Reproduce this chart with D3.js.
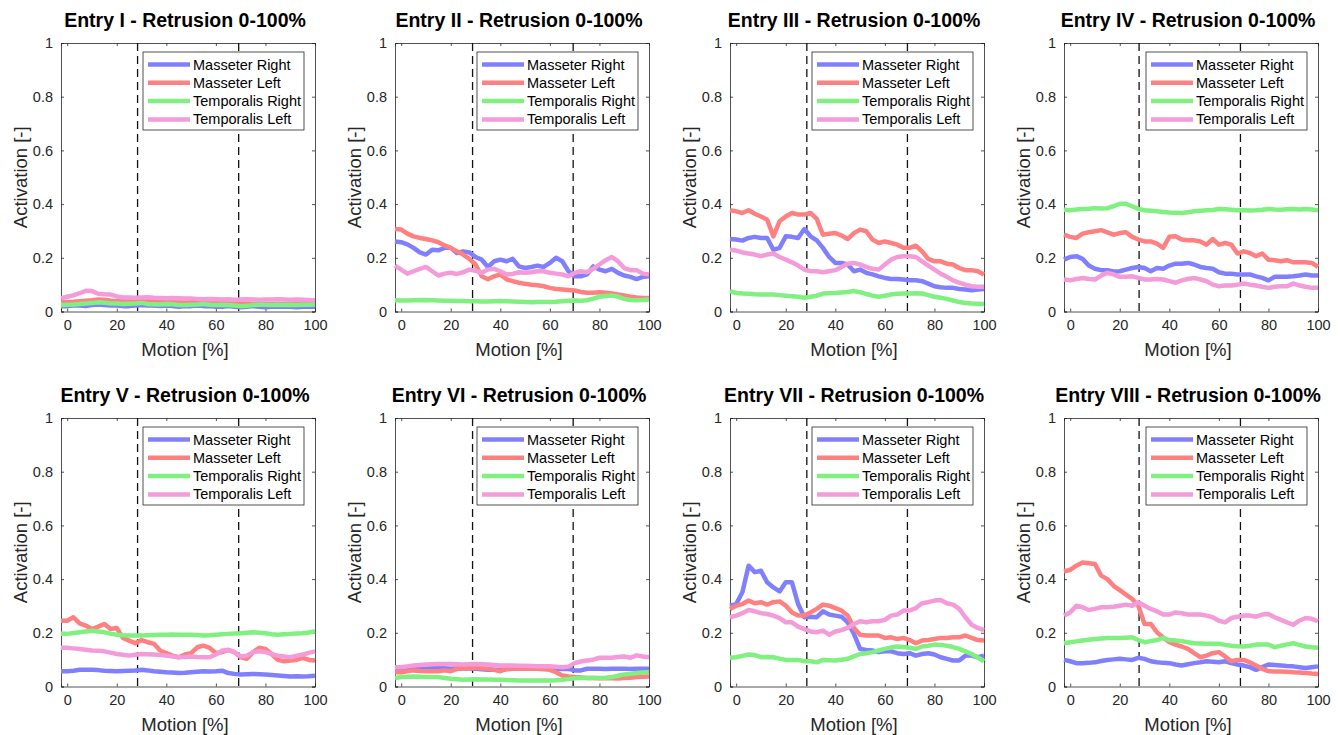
<!DOCTYPE html>
<html>
<head>
<meta charset="utf-8">
<script src="https://cdn.jsdelivr.net/npm/d3@7"></script>
<style>
  body { margin: 0; background: #fff; }
  text { font-family: Arial, "Liberation Sans", Helvetica, sans-serif; }
</style>
</head>
<body>
<script>
// data, x = motion [%]
var motion = [-2.5,0,2.5,5,7.5,10,12.5,15,17.5,20,22.5,25,27.5,30,32.5,35,37.5,40,42.5,45,47.5,50,52.5,55,57.5,60,62.5,65,67.5,70,72.5,75,77.5,80,82.5,85,87.5,90,92.5,95,97.5,100];

var entries = ["I", "II", "III", "IV", "V", "VI", "VII", "VIII"];
var muscles = ["Masseter Right", "Masseter Left", "Temporalis Right", "Temporalis Left"];
var colours = ["#8080ff", "#ff8080", "#80f080", "#f49bd9"];
var xTicks = [0, 20, 40, 60, 80, 100];
var yTicks = [0, 0.2, 0.4, 0.6, 0.8, 1];
var phaseLines = [[28.4, 69.2], [28.8, 69.4], [28.5, 69.1], [27.8, 68.7], [28.4, 69.2], [28.8, 69.4], [28.5, 69.1], [27.8, 68.7]];

// entry I
var e1_mr = [0.02,0.02,0.022,0.022,0.02,0.024,0.026,0.024,0.022,0.022,0.02,0.02,0.022,0.024,0.022,0.022,0.02,0.022,0.02,0.018,0.02,0.02,0.022,0.02,0.02,0.018,0.018,0.02,0.018,0.016,0.018,0.02,0.018,0.016,0.018,0.018,0.018,0.018,0.016,0.018,0.018,0.018];
var e1_ml = [0.034,0.035,0.036,0.038,0.04,0.042,0.045,0.044,0.04,0.038,0.04,0.04,0.038,0.04,0.038,0.036,0.036,0.035,0.036,0.034,0.033,0.034,0.034,0.035,0.033,0.032,0.032,0.03,0.03,0.03,0.03,0.028,0.028,0.029,0.028,0.028,0.027,0.028,0.028,0.027,0.027,0.028];
var e1_tr = [0.024,0.025,0.026,0.028,0.03,0.032,0.034,0.033,0.03,0.03,0.028,0.029,0.03,0.032,0.028,0.027,0.026,0.028,0.027,0.024,0.024,0.025,0.026,0.028,0.025,0.024,0.025,0.024,0.022,0.02,0.021,0.024,0.026,0.025,0.024,0.025,0.024,0.025,0.024,0.025,0.025,0.026];
var e1_tl = [0.05,0.055,0.06,0.068,0.077,0.076,0.066,0.064,0.063,0.056,0.052,0.052,0.051,0.052,0.053,0.051,0.05,0.049,0.05,0.049,0.048,0.048,0.047,0.046,0.047,0.046,0.045,0.046,0.044,0.045,0.046,0.045,0.044,0.045,0.045,0.046,0.045,0.044,0.045,0.044,0.043,0.042];
// entry II
var e2_mr = [0.261,0.258,0.25,0.237,0.22,0.212,0.23,0.228,0.237,0.237,0.218,0.224,0.22,0.203,0.193,0.166,0.187,0.193,0.187,0.196,0.168,0.162,0.166,0.171,0.166,0.181,0.2,0.187,0.15,0.131,0.131,0.138,0.168,0.156,0.15,0.159,0.144,0.134,0.129,0.121,0.129,0.131];
var e2_ml = [0.307,0.305,0.29,0.28,0.274,0.27,0.265,0.258,0.246,0.237,0.224,0.212,0.196,0.175,0.131,0.12,0.131,0.138,0.12,0.113,0.107,0.103,0.1,0.098,0.094,0.088,0.084,0.082,0.08,0.078,0.073,0.07,0.07,0.072,0.07,0.067,0.063,0.06,0.055,0.052,0.05,0.05];
var e2_tr = [0.042,0.041,0.041,0.042,0.042,0.043,0.042,0.041,0.04,0.04,0.039,0.039,0.038,0.038,0.037,0.037,0.038,0.039,0.038,0.037,0.036,0.035,0.034,0.035,0.035,0.035,0.036,0.038,0.04,0.041,0.04,0.042,0.048,0.055,0.058,0.06,0.055,0.047,0.043,0.042,0.043,0.045];
var e2_tl = [0.171,0.156,0.141,0.15,0.159,0.166,0.15,0.134,0.141,0.144,0.14,0.146,0.156,0.152,0.144,0.156,0.159,0.15,0.138,0.14,0.146,0.144,0.146,0.15,0.15,0.144,0.141,0.138,0.131,0.144,0.15,0.146,0.159,0.175,0.191,0.203,0.187,0.162,0.154,0.154,0.141,0.138];
// entry III
var e3_mr = [0.27,0.268,0.264,0.274,0.278,0.274,0.274,0.23,0.237,0.28,0.278,0.274,0.307,0.28,0.265,0.237,0.203,0.181,0.181,0.175,0.15,0.156,0.144,0.138,0.131,0.125,0.121,0.121,0.119,0.116,0.116,0.113,0.104,0.094,0.09,0.088,0.088,0.084,0.082,0.079,0.082,0.084];
var e3_ml = [0.377,0.373,0.367,0.377,0.364,0.354,0.342,0.28,0.336,0.354,0.367,0.361,0.361,0.367,0.345,0.286,0.29,0.292,0.283,0.27,0.292,0.305,0.299,0.268,0.255,0.261,0.255,0.249,0.237,0.237,0.245,0.224,0.196,0.187,0.187,0.178,0.175,0.162,0.154,0.154,0.15,0.138];
var e3_tr = [0.076,0.069,0.067,0.066,0.064,0.063,0.063,0.063,0.061,0.059,0.057,0.055,0.051,0.055,0.059,0.067,0.068,0.069,0.071,0.073,0.076,0.072,0.065,0.059,0.055,0.059,0.063,0.066,0.067,0.067,0.068,0.067,0.061,0.055,0.051,0.047,0.041,0.035,0.032,0.03,0.029,0.028];
var e3_tl = [0.23,0.227,0.22,0.216,0.212,0.206,0.212,0.216,0.203,0.193,0.183,0.171,0.156,0.15,0.15,0.146,0.15,0.154,0.166,0.178,0.181,0.175,0.166,0.159,0.156,0.175,0.193,0.203,0.206,0.206,0.203,0.187,0.171,0.156,0.141,0.129,0.116,0.107,0.1,0.094,0.092,0.092];
// entry IV
var e4_mr = [0.193,0.203,0.206,0.196,0.171,0.159,0.154,0.154,0.149,0.15,0.156,0.162,0.166,0.162,0.15,0.162,0.159,0.171,0.178,0.178,0.181,0.175,0.166,0.162,0.159,0.146,0.141,0.141,0.138,0.138,0.138,0.131,0.125,0.116,0.129,0.129,0.129,0.131,0.134,0.138,0.134,0.134];
var e4_ml = [0.286,0.278,0.274,0.29,0.295,0.299,0.303,0.295,0.286,0.292,0.295,0.278,0.268,0.261,0.261,0.253,0.237,0.278,0.28,0.268,0.265,0.265,0.261,0.249,0.27,0.249,0.255,0.249,0.216,0.224,0.218,0.206,0.216,0.193,0.191,0.187,0.191,0.183,0.183,0.183,0.181,0.166];
var e4_tr = [0.379,0.377,0.38,0.382,0.383,0.385,0.384,0.385,0.392,0.401,0.401,0.392,0.382,0.377,0.375,0.373,0.371,0.369,0.368,0.367,0.37,0.373,0.375,0.377,0.378,0.382,0.381,0.379,0.377,0.377,0.376,0.377,0.379,0.382,0.38,0.379,0.381,0.382,0.38,0.382,0.38,0.377];
var e4_tl = [0.119,0.116,0.121,0.125,0.121,0.119,0.134,0.144,0.138,0.129,0.129,0.131,0.125,0.119,0.119,0.121,0.119,0.113,0.107,0.116,0.121,0.125,0.119,0.113,0.1,0.094,0.097,0.097,0.1,0.104,0.1,0.097,0.092,0.088,0.092,0.094,0.094,0.104,0.097,0.092,0.088,0.088];
// entry V
var e5_mr = [0.057,0.057,0.059,0.062,0.062,0.062,0.061,0.059,0.058,0.057,0.058,0.059,0.06,0.062,0.06,0.057,0.055,0.053,0.052,0.05,0.051,0.053,0.055,0.057,0.056,0.057,0.059,0.05,0.047,0.045,0.046,0.047,0.046,0.045,0.043,0.041,0.039,0.037,0.038,0.037,0.038,0.04];
var e5_ml = [0.245,0.245,0.258,0.235,0.227,0.214,0.223,0.233,0.214,0.218,0.181,0.171,0.161,0.173,0.165,0.159,0.134,0.124,0.115,0.109,0.119,0.124,0.146,0.152,0.144,0.124,0.128,0.136,0.128,0.109,0.103,0.128,0.144,0.14,0.121,0.099,0.094,0.097,0.099,0.107,0.099,0.097];
var e5_tr = [0.196,0.196,0.199,0.202,0.205,0.208,0.205,0.202,0.197,0.193,0.191,0.19,0.19,0.19,0.191,0.192,0.193,0.193,0.194,0.193,0.193,0.193,0.192,0.19,0.191,0.193,0.195,0.196,0.197,0.198,0.2,0.202,0.2,0.198,0.195,0.193,0.195,0.196,0.197,0.198,0.201,0.206];
var e5_tl = [0.144,0.144,0.142,0.14,0.137,0.134,0.133,0.131,0.126,0.121,0.118,0.115,0.118,0.121,0.12,0.119,0.117,0.115,0.112,0.109,0.11,0.112,0.11,0.109,0.109,0.119,0.134,0.136,0.128,0.112,0.115,0.128,0.131,0.128,0.121,0.115,0.112,0.109,0.114,0.119,0.125,0.131];
// entry VI
var e6_mr = [0.06,0.06,0.063,0.066,0.066,0.066,0.068,0.07,0.068,0.066,0.067,0.068,0.067,0.066,0.064,0.062,0.062,0.062,0.064,0.066,0.066,0.066,0.066,0.066,0.066,0.066,0.065,0.065,0.066,0.06,0.06,0.066,0.066,0.066,0.065,0.066,0.066,0.066,0.065,0.066,0.066,0.066];
var e6_ml = [0.053,0.053,0.057,0.06,0.058,0.057,0.057,0.057,0.06,0.057,0.066,0.068,0.069,0.07,0.068,0.066,0.062,0.057,0.066,0.066,0.066,0.066,0.066,0.066,0.064,0.062,0.053,0.041,0.037,0.035,0.034,0.032,0.032,0.031,0.031,0.031,0.03,0.032,0.033,0.035,0.036,0.037];
var e6_tr = [0.032,0.035,0.036,0.037,0.036,0.035,0.035,0.035,0.032,0.029,0.027,0.025,0.026,0.027,0.026,0.026,0.025,0.025,0.024,0.023,0.022,0.022,0.022,0.022,0.022,0.022,0.023,0.025,0.028,0.031,0.032,0.032,0.032,0.032,0.033,0.035,0.04,0.045,0.047,0.05,0.052,0.053];
var e6_tl = [0.072,0.072,0.075,0.078,0.08,0.082,0.083,0.084,0.084,0.084,0.083,0.082,0.083,0.084,0.083,0.082,0.08,0.078,0.078,0.078,0.077,0.077,0.076,0.075,0.075,0.075,0.074,0.072,0.074,0.087,0.093,0.097,0.1,0.107,0.107,0.107,0.11,0.112,0.107,0.116,0.112,0.109];
// entry VII
var e7_mr = [0.301,0.307,0.351,0.45,0.426,0.431,0.388,0.369,0.354,0.388,0.388,0.307,0.258,0.26,0.258,0.28,0.268,0.264,0.26,0.239,0.196,0.14,0.136,0.134,0.128,0.131,0.131,0.124,0.121,0.124,0.115,0.121,0.124,0.119,0.109,0.103,0.097,0.097,0.115,0.115,0.109,0.115];
var e7_ml = [0.289,0.301,0.307,0.32,0.31,0.314,0.305,0.314,0.317,0.301,0.276,0.264,0.264,0.276,0.289,0.305,0.301,0.292,0.283,0.264,0.218,0.193,0.19,0.19,0.19,0.181,0.183,0.177,0.181,0.173,0.161,0.171,0.173,0.177,0.181,0.181,0.183,0.183,0.19,0.181,0.173,0.171];
var e7_tr = [0.107,0.109,0.114,0.119,0.117,0.109,0.11,0.109,0.104,0.099,0.099,0.099,0.094,0.094,0.09,0.099,0.098,0.097,0.1,0.103,0.112,0.121,0.124,0.128,0.134,0.14,0.145,0.149,0.147,0.144,0.14,0.149,0.152,0.156,0.155,0.152,0.147,0.14,0.131,0.121,0.108,0.094];
var e7_tl = [0.258,0.264,0.273,0.285,0.28,0.273,0.27,0.264,0.255,0.239,0.239,0.223,0.214,0.205,0.202,0.208,0.193,0.205,0.21,0.218,0.233,0.243,0.239,0.243,0.243,0.248,0.264,0.268,0.283,0.283,0.292,0.31,0.314,0.32,0.322,0.31,0.305,0.289,0.258,0.23,0.218,0.21];
// entry VIII
var e8_mr = [0.099,0.094,0.087,0.087,0.088,0.09,0.095,0.099,0.101,0.103,0.101,0.099,0.107,0.103,0.094,0.09,0.088,0.087,0.082,0.078,0.083,0.087,0.09,0.094,0.092,0.09,0.094,0.087,0.082,0.078,0.072,0.062,0.072,0.082,0.08,0.078,0.076,0.075,0.072,0.069,0.072,0.075];
var e8_ml = [0.429,0.434,0.45,0.462,0.459,0.456,0.413,0.4,0.375,0.359,0.342,0.326,0.301,0.233,0.233,0.202,0.183,0.165,0.156,0.149,0.14,0.124,0.109,0.115,0.124,0.128,0.112,0.094,0.099,0.099,0.09,0.078,0.066,0.057,0.056,0.056,0.055,0.053,0.052,0.05,0.048,0.047];
var e8_tr = [0.161,0.165,0.168,0.171,0.174,0.177,0.179,0.181,0.181,0.181,0.182,0.183,0.173,0.165,0.169,0.173,0.181,0.173,0.171,0.169,0.165,0.161,0.16,0.159,0.159,0.159,0.155,0.152,0.15,0.149,0.152,0.156,0.156,0.156,0.146,0.152,0.157,0.161,0.155,0.149,0.146,0.144];
var e8_tl = [0.264,0.276,0.301,0.295,0.285,0.289,0.295,0.295,0.297,0.301,0.305,0.301,0.314,0.301,0.289,0.28,0.268,0.268,0.276,0.273,0.268,0.268,0.268,0.264,0.258,0.245,0.239,0.255,0.26,0.264,0.264,0.26,0.268,0.27,0.258,0.248,0.239,0.23,0.245,0.255,0.252,0.243];

var series = [
    [e1_mr, e1_ml, e1_tr, e1_tl], [e2_mr, e2_ml, e2_tr, e2_tl],
    [e3_mr, e3_ml, e3_tr, e3_tl], [e4_mr, e4_ml, e4_tr, e4_tl],
    [e5_mr, e5_ml, e5_tr, e5_tl], [e6_mr, e6_ml, e6_tr, e6_tl],
    [e7_mr, e7_ml, e7_tr, e7_tl], [e8_mr, e8_ml, e8_tr, e8_tl]
];

// layout
var W = 1343, H = 735;
var colLeft = [61, 395, 730, 1064];
var rowTop = [43, 418];
var pw = 254, ph = 268.5;
var ink = "#262626";

var svg = d3.select("body").append("svg")
    .attr("width", W)
    .attr("height", H);

entries.forEach(function (entry, k) {
    var left = colLeft[k % 4], top = rowTop[Math.floor(k / 4)];
    var g = svg.append("g").attr("transform", "translate(" + left + "," + top + ")");

    var x = d3.scaleLinear().domain([-2.5, 100]).range([0, pw]);
    var y = d3.scaleLinear().domain([0, 1]).range([ph, 0]);

    // axes (ticks pointing inward, box on)
    g.append("g").attr("transform", "translate(0," + ph + ")")
        .call(d3.axisBottom(x).tickValues(xTicks).tickSize(-3).tickPadding(8).tickFormat(d3.format("d")));
    g.append("g")
        .call(d3.axisLeft(y).tickValues(yTicks).tickSize(-3).tickPadding(8).tickFormat(function (d) { return d === 0 || d === 1 ? d : d3.format(".1f")(d); }));
    g.append("g").attr("transform", "translate(" + pw + ",0)")
        .call(d3.axisRight(y).tickValues(yTicks).tickSize(-3).tickFormat(""));
    g.append("g")
        .call(d3.axisTop(x).tickValues(xTicks).tickSize(-3).tickFormat(""));
    g.selectAll(".domain").attr("stroke", ink).attr("stroke-width", 0.8);
    g.selectAll(".tick line").attr("stroke", ink).attr("stroke-width", 0.8);
    g.selectAll(".tick text").attr("fill", ink).style("font-size", "14.5px")
        .style("font-family", "Arial, 'Liberation Sans', sans-serif");

    // phase markers
    g.selectAll(".phase").data(phaseLines[k]).enter().append("line")
        .attr("x1", function (d) { return x(d); })
        .attr("x2", function (d) { return x(d); })
        .attr("y1", y(1)).attr("y2", y(0))
        .attr("stroke", "#111").attr("stroke-width", 1.3)
        .attr("stroke-dasharray", "8,5");

    // activation curves
    var line = d3.line()
        .x(function (d, i) { return x(motion[i]); })
        .y(function (d) { return y(d); });
    series[k].forEach(function (vals, s) {
        g.append("path")
            .datum(vals)
            .attr("d", line)
            .attr("fill", "none")
            .attr("stroke", colours[s])
            .attr("stroke-width", 4.5)
            .attr("stroke-linejoin", "round")
            .attr("stroke-linecap", "butt");
    });

    // legend
    var lg = g.append("g").attr("transform", "translate(" + (pw - 172) + ",9)");
    lg.append("rect").attr("width", 161).attr("height", 78)
        .attr("fill", "#fff").attr("stroke", ink).attr("stroke-width", 0.8);
    muscles.forEach(function (m, s) {
        var yy = 12.5 + s * 18.3;
        lg.append("line").attr("x1", 5).attr("x2", 47).attr("y1", yy).attr("y2", yy)
            .attr("stroke", colours[s]).attr("stroke-width", 4.5);
        lg.append("text").attr("x", 50).attr("y", yy).attr("dy", "0.35em")
            .attr("fill", "#000").style("font-size", "14.5px").text(m);
    });

    // title and labels
    g.append("text").attr("x", pw / 2 - 3).attr("y", -16)
        .attr("text-anchor", "middle").style("font-weight", "bold").style("font-size", "19.5px")
        .attr("fill", "#000").text("Entry " + entry + " - Retrusion 0-100%");
    g.append("text").attr("x", pw / 2 - 3).attr("y", ph + 44)
        .attr("text-anchor", "middle").style("font-size", "18.5px").attr("fill", ink)
        .text("Motion [%]");
    g.append("text").attr("transform", "translate(-34," + (ph / 2) + ") rotate(-90)")
        .attr("text-anchor", "middle").style("font-size", "18.5px").attr("fill", ink)
        .text("Activation [-]");
});
</script>
</body>
</html>
